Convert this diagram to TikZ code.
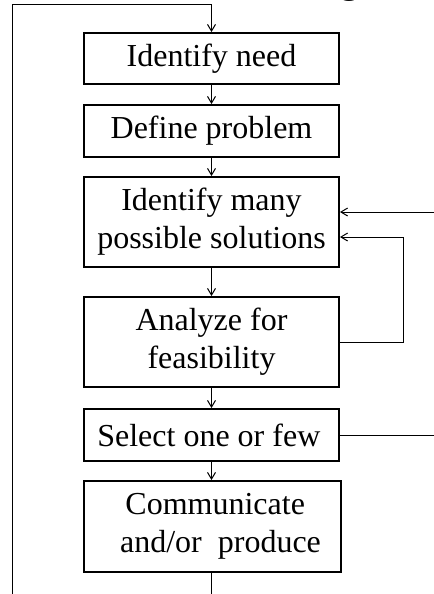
\documentclass[tikz,border=0pt]{standalone}
\usepackage{fontspec}
\setmainfont{Liberation Serif}
\newfontfamily\titlefont{Liberation Sans}
\usetikzlibrary{arrows.meta}
\begin{document}
\begin{tikzpicture}[x=0.75pt,y=-0.75pt,
  stepbox/.style={draw,line width=1.5pt,minimum width=255*0.75pt,inner sep=0pt,align=center,
    font=\fontsize{24}{28.5}\selectfont},
  link/.style={line width=0.75pt,-{Straight Barb[length=5pt,width=6pt]}},
  plain/.style={line width=0.75pt}]
\useasboundingbox (0,0) rectangle (434,594);
\begin{scope}
\clip (0,0) rectangle (434,594);
\node[font=\titlefont\fontsize{36}{36}\selectfont,anchor=base,inner sep=0pt] (title) at (350,-9) {g};
\end{scope}

\node[stepbox,minimum height=51*0.75pt] (b1) at (211.5,58.5) {Identify need};
\node[stepbox,minimum height=52*0.75pt] (b2) at (211.5,131) {Define problem};
\node[stepbox,minimum height=90*0.75pt] (b3) at (211.5,222) {Identify many\\possible solutions};
\node[stepbox,minimum height=90*0.75pt] (b4) at (211.5,342) {Analyze for\\feasibility};
\node[stepbox,minimum height=52*0.75pt] (b5) at (211.5,435) {Select one or few\,};
\node[stepbox,minimum height=91*0.75pt,minimum width=257*0.75pt] (b6) at (212.5,526.5) {\,Communicate\\\ \ and/or\ \ produce};

\coordinate (Lbot) at (12,594);
\coordinate (Ltop) at (12,4);
\coordinate (Bbot) at (211.5,594);
\coordinate (R1) at (434,212);
\coordinate (fbR) at (403,342);
\coordinate (fbIn) at (403,237);
\coordinate (R2) at (434,435);

\draw[link] (Lbot) -- (Ltop) -| (b1.north);
\draw[link] (b1) -- (b2);
\draw[link] (b2) -- (b3);
\draw[link] (b3) -- (b4);
\draw[link] (b4) -- (b5);
\draw[link] (b5) -- (b5 |- b6.north);
\draw[plain] (Bbot |- b6.south) -- (Bbot);
\draw[link] (R1) -- (R1 -| b3.east);
\draw[link] (b4.east) -- (fbR) -- (fbIn) -- (fbIn -| b3.east);
\draw[plain] (b5.east) -- (R2);
\end{tikzpicture}
\end{document}
